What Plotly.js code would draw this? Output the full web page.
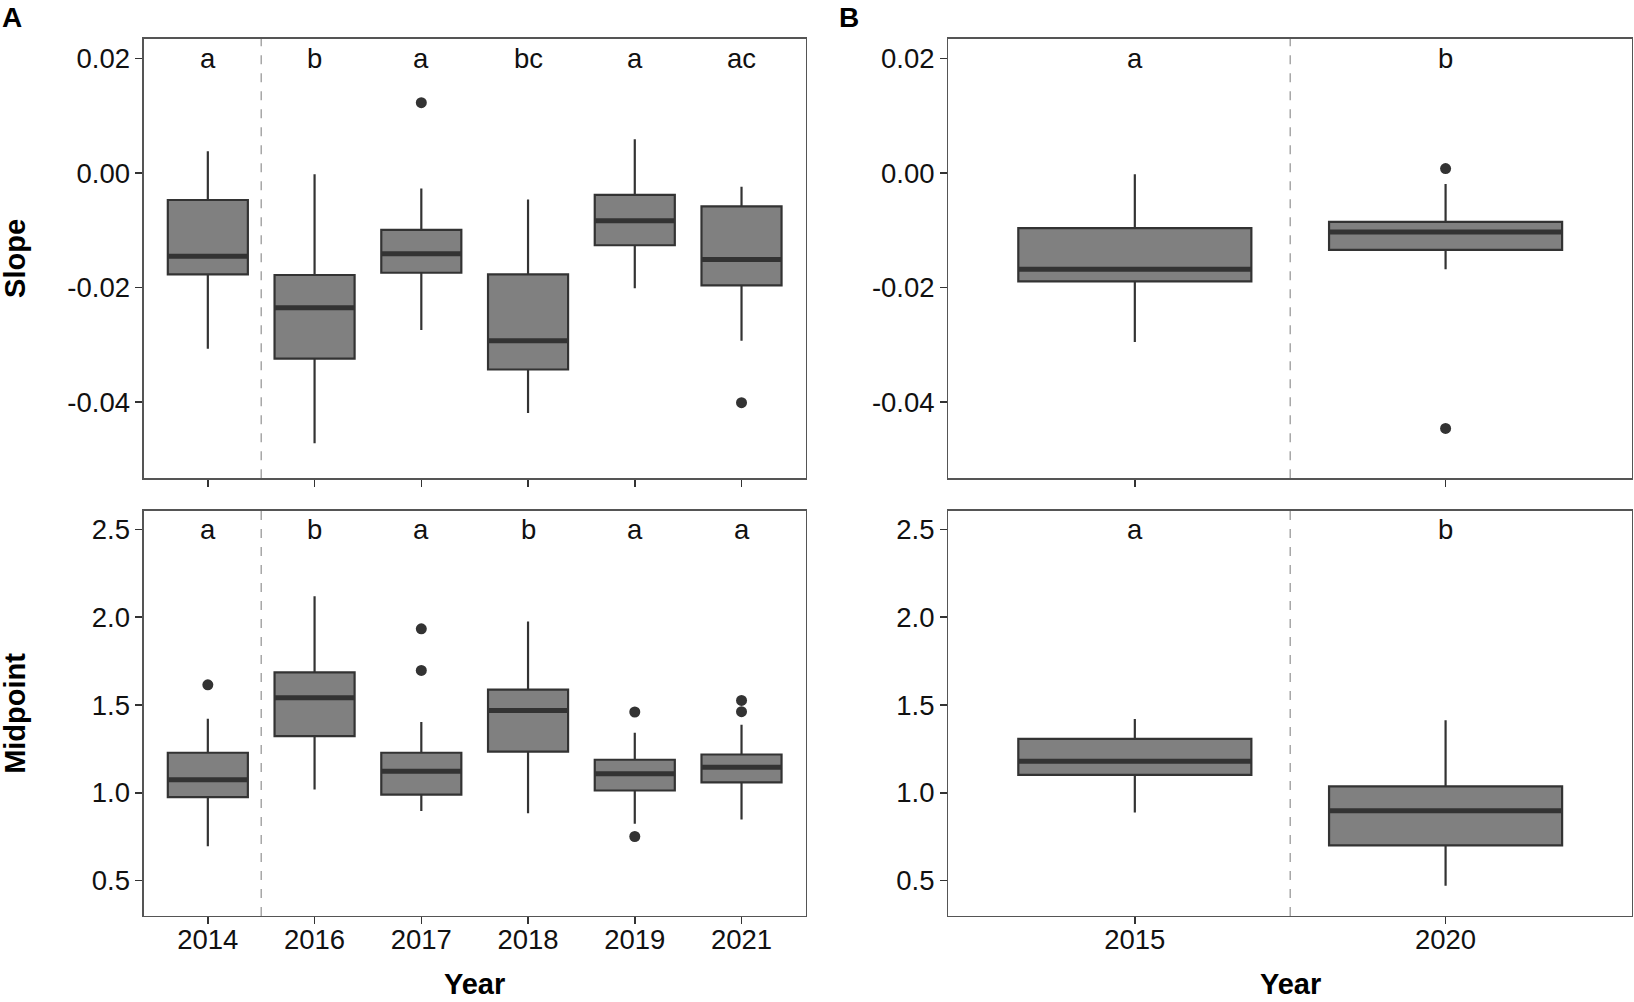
<!DOCTYPE html>
<html>
<head>
<meta charset="utf-8">
<script src="https://cdn.plot.ly/plotly-3.0.1.min.js"></script>
<style>html,body{margin:0;padding:0;background:#fff;}#chart{width:1634px;height:1002px;}</style>
</head>
<body>
<div id="chart"></div>
<script>
// ---- Panel A data ----
const yearsA = ['2014', '2016', '2017', '2018', '2019', '2021'];
const lettersSlopeA = ['a', 'b', 'a', 'bc', 'a', 'ac'];
const lettersMidA = ['a', 'b', 'a', 'b', 'a', 'a'];

const slopeA_lower = [-0.0307, -0.0472, -0.0274, -0.0419, -0.0201, -0.0293];
const slopeA_q1    = [-0.0177, -0.0324, -0.0174, -0.0343, -0.0126, -0.0196];
const slopeA_med   = [-0.0145, -0.0235, -0.0141, -0.0293, -0.0083, -0.0151];
const slopeA_q3    = [-0.0047, -0.0178, -0.0099, -0.0177, -0.0038, -0.0058];
const slopeA_upper = [0.0038, -0.0002, -0.0027, -0.0046, 0.0059, -0.0024];
const slopeA_outYear = ['2017', '2021'];
const slopeA_outVal  = [0.0123, -0.0401];

const midA_lower = [0.696, 1.019, 0.896, 0.884, 0.823, 0.848];
const midA_q1    = [0.975, 1.323, 0.990, 1.234, 1.013, 1.059];
const midA_med   = [1.074, 1.541, 1.123, 1.469, 1.108, 1.146];
const midA_q3    = [1.228, 1.686, 1.228, 1.587, 1.188, 1.218];
const midA_upper = [1.422, 2.119, 1.403, 1.976, 1.342, 1.387];
const midA_outYear = ['2014', '2017', '2017', '2019', '2019', '2021', '2021'];
const midA_outVal  = [1.615, 1.934, 1.697, 1.460, 0.751, 1.526, 1.462];

// ---- Panel B data ----
const yearsB = ['2015', '2020'];
const lettersSlopeB = ['a', 'b'];
const lettersMidB = ['a', 'b'];

const slopeB_lower = [-0.0295, -0.0168];
const slopeB_q1    = [-0.0189, -0.0134];
const slopeB_med   = [-0.0168, -0.0103];
const slopeB_q3    = [-0.0096, -0.0085];
const slopeB_upper = [-0.0002, -0.0019];
const slopeB_outYear = ['2020', '2020'];
const slopeB_outVal  = [0.0008, -0.0446];

const midB_lower = [0.887, 0.470];
const midB_q1    = [1.102, 0.700];
const midB_med   = [1.179, 0.898];
const midB_q3    = [1.307, 1.037];
const midB_upper = [1.420, 1.413];

const slopeTicks = [-0.04, -0.02, 0.00, 0.02];
const slopeTickText = ['-0.04', '-0.02', '0.00', '0.02'];
const midTicks = [0.5, 1.0, 1.5, 2.0, 2.5];
const midTickText = ['0.5', '1.0', '1.5', '2.0', '2.5'];

// ---- styling ----
const FONT = 'Liberation Sans, Arial, Helvetica, sans-serif';
const BOXW = 0.75;
const FILL = '#808080';
const LINE = '#333333';

function idx(arr) { return arr.map((_, i) => i); }

function boxTraces(years, lower, q1, med, q3, upper, outYear, outVal, xa, ya) {
  const xs = idx(years);
  const traces = [{
    type: 'box', x: xs, lowerfence: lower, q1: q1, median: med, q3: q3, upperfence: upper,
    width: BOXW, whiskerwidth: 0, fillcolor: FILL, line: {color: LINE, width: 2.2},
    boxpoints: false, xaxis: xa, yaxis: ya, hoverinfo: 'skip', showlegend: false
  }];
  const mx = [], my = [];
  xs.forEach((x, i) => { mx.push(x - BOXW / 2, x + BOXW / 2, null); my.push(med[i], med[i], null); });
  traces.push({type: 'scatter', mode: 'lines', x: mx, y: my, line: {color: LINE, width: 5},
    xaxis: xa, yaxis: ya, hoverinfo: 'skip', showlegend: false});
  if (outYear && outYear.length) {
    traces.push({type: 'scatter', mode: 'markers', x: outYear.map(y => years.indexOf(y)), y: outVal,
      marker: {color: LINE, size: 11}, xaxis: xa, yaxis: ya, hoverinfo: 'skip', showlegend: false});
  }
  return traces;
}

const data = [].concat(
  boxTraces(yearsA, slopeA_lower, slopeA_q1, slopeA_med, slopeA_q3, slopeA_upper, slopeA_outYear, slopeA_outVal, 'x', 'y'),
  boxTraces(yearsA, midA_lower, midA_q1, midA_med, midA_q3, midA_upper, midA_outYear, midA_outVal, 'x2', 'y2'),
  boxTraces(yearsB, slopeB_lower, slopeB_q1, slopeB_med, slopeB_q3, slopeB_upper, slopeB_outYear, slopeB_outVal, 'x3', 'y3'),
  boxTraces(yearsB, midB_lower, midB_q1, midB_med, midB_q3, midB_upper, [], [], 'x4', 'y4')
);

const domA = [0.0880, 0.4930], domB = [0.5804, 0.9988];
const domTop = [0.5227, 0.9615], domBot = [0.0858, 0.4904];
const SLOPE_RANGE = [-0.0533, 0.0235];
const MID_RANGE = [0.298, 2.607];
const TICKFONT = {family: FONT, size: 27.5, color: '#111111'};

function xaxis(dom, years, anchor, labels) {
  return {
    domain: dom, anchor: anchor, range: [-0.6, years.length - 0.4],
    tickmode: 'array', tickvals: idx(years), ticktext: labels ? years : years.map(() => ''),
    showticklabels: labels, ticks: 'outside', ticklen: 7, tickwidth: 1.6, tickcolor: LINE,
    ticklabelstandoff: -8,
    showline: true, mirror: true, linecolor: '#555555', linewidth: 1.3,
    showgrid: false, zeroline: false, fixedrange: true,
    tickfont: TICKFONT
  };
}
function yaxis(dom, range, tv, tt, anchor) {
  return {
    domain: dom, anchor: anchor, range: range,
    tickmode: 'array', tickvals: tv, ticktext: tt,
    ticks: 'outside', ticklen: 7, tickwidth: 1.6, tickcolor: LINE,
    showline: true, mirror: true, linecolor: '#555555', linewidth: 1.3,
    showgrid: false, zeroline: false, fixedrange: true,
    tickfont: TICKFONT
  };
}

const annotations = [];
function letters(years, lets, yv, xr, yr) {
  years.forEach((y, i) => annotations.push({x: i, y: yv, xref: xr, yref: yr, text: lets[i], showarrow: false,
    yanchor: 'middle', font: {family: FONT, size: 27.5, color: '#111111'}}));
}
letters(yearsA, lettersSlopeA, 0.02, 'x', 'y');
letters(yearsA, lettersMidA, 2.5, 'x2', 'y2');
letters(yearsB, lettersSlopeB, 0.02, 'x3', 'y3');
letters(yearsB, lettersMidB, 2.5, 'x4', 'y4');

const titleFont = {family: FONT, size: 29, color: '#000000'};
annotations.push(
  {text: '<b>A</b>', xref: 'paper', yref: 'paper', x: 0.0, y: 1.0, xanchor: 'left', yanchor: 'top', showarrow: false, font: {family: FONT, size: 28, color: '#000'}},
  {text: '<b>B</b>', xref: 'paper', yref: 'paper', x: 0.5125, y: 1.0, xanchor: 'left', yanchor: 'top', showarrow: false, font: {family: FONT, size: 28, color: '#000'}},
  {text: '<b>Slope</b>', xref: 'paper', yref: 'paper', x: 0.0095, y: (domTop[0] + domTop[1]) / 2, textangle: -90, xanchor: 'center', yanchor: 'middle', showarrow: false, font: titleFont},
  {text: '<b>Midpoint</b>', xref: 'paper', yref: 'paper', x: 0.0095, y: (domBot[0] + domBot[1]) / 2, textangle: -90, xanchor: 'center', yanchor: 'middle', showarrow: false, font: titleFont},
  {text: '<b>Year</b>', xref: 'paper', yref: 'paper', x: (domA[0] + domA[1]) / 2, y: 0.0, xanchor: 'center', yanchor: 'bottom', showarrow: false, font: titleFont},
  {text: '<b>Year</b>', xref: 'paper', yref: 'paper', x: (domB[0] + domB[1]) / 2, y: 0.0, xanchor: 'center', yanchor: 'bottom', showarrow: false, font: titleFont}
);

const dash = (xr, yr) => ({type: 'line', xref: xr, yref: yr + ' domain', x0: 0.5, x1: 0.5, y0: 0, y1: 1,
  line: {color: '#9a9a9a', width: 1.3, dash: 'dash'}, layer: 'below'});

const layout = {
  width: 1634, height: 1002,
  margin: {l: 0, r: 0, t: 0, b: 0},
  paper_bgcolor: '#ffffff', plot_bgcolor: '#ffffff',
  showlegend: false,
  font: {family: FONT, color: '#111111'},
  xaxis: xaxis(domA, yearsA, 'y', false),
  yaxis: yaxis(domTop, SLOPE_RANGE, slopeTicks, slopeTickText, 'x'),
  xaxis2: xaxis(domA, yearsA, 'y2', true),
  yaxis2: yaxis(domBot, MID_RANGE, midTicks, midTickText, 'x2'),
  xaxis3: xaxis(domB, yearsB, 'y3', false),
  yaxis3: yaxis(domTop, SLOPE_RANGE, slopeTicks, slopeTickText, 'x3'),
  xaxis4: xaxis(domB, yearsB, 'y4', true),
  yaxis4: yaxis(domBot, MID_RANGE, midTicks, midTickText, 'x4'),
  annotations: annotations,
  shapes: [dash('x', 'y'), dash('x2', 'y2'), dash('x3', 'y3'), dash('x4', 'y4')]
};

Plotly.newPlot('chart', data, layout, {displayModeBar: false, staticPlot: true});
</script>
</body>
</html>
